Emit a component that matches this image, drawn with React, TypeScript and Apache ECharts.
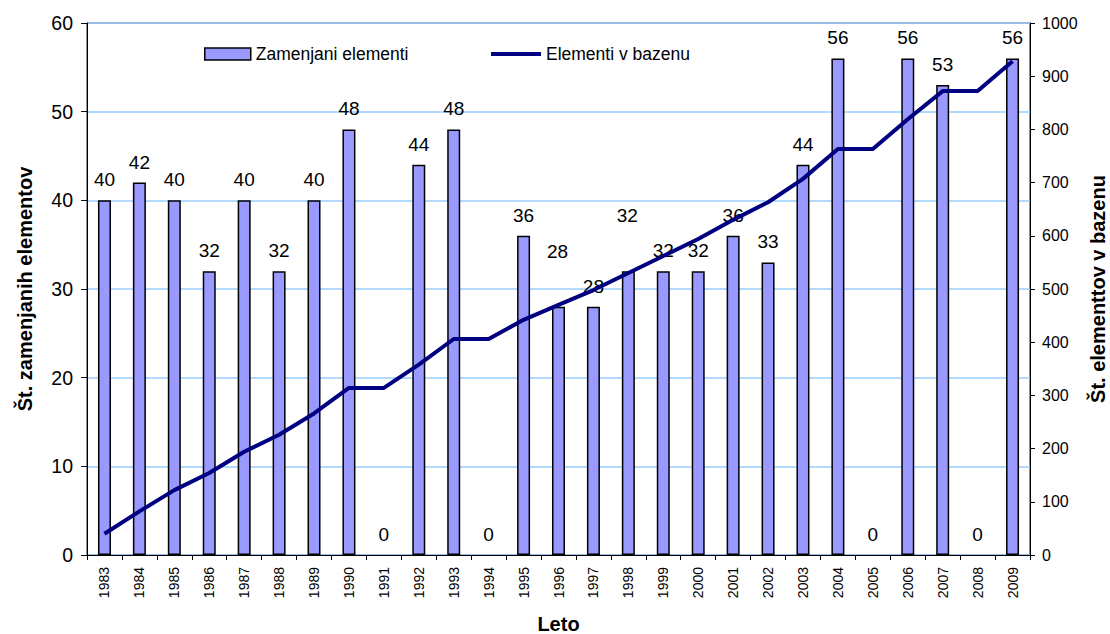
import React, { useEffect, useRef } from "react";
import * as echarts from "echarts";

const years = ["1983","1984","1985","1986","1987","1988","1989","1990","1991","1992","1993","1994","1995","1996","1997","1998","1999","2000","2001","2002","2003","2004","2005","2006","2007","2008","2009"];
const replacedElements = [40,42,40,32,40,32,40,48,0,44,48,0,36,28,28,32,32,32,36,33,44,56,0,56,53,0,56];
const elementsInPool = [40,82,122,154,194,226,266,314,314,358,406,406,442,470,498,530,562,594,630,663,707,763,763,819,872,872,928];
const raisedLabelYears = ["1996", "1998"];
const leftTicks = { min: 0, max: 60, interval: 10 };
const rightTicks = { min: 0, max: 1000, interval: 100 };

const FONT = "'Liberation Sans', Arial, sans-serif";

export default function App() {
  const ref = useRef<HTMLDivElement>(null);
  useEffect(() => {
    if (!ref.current) return;
    const chart = echarts.init(ref.current, null, { renderer: "svg" });
    const barData = replacedElements.map((v, i) => {
      if (raisedLabelYears.includes(years[i])) return { value: v, label: { offset: [-1, -35] } };
      if (v === 0) return { value: v, itemStyle: { borderWidth: 0 } };
      return v;
    });
    const legendText = { fontSize: 17.5, color: "#000", fontFamily: FONT };
    chart.setOption({
      animation: false,
      backgroundColor: "#fff",
      textStyle: { fontFamily: FONT },
      grid: {
        left: 87, right: 80, top: 23, bottom: 79,
        containLabel: false,
        outerBoundsMode: "none",
        show: true, borderColor: "#223", borderWidth: 1, backgroundColor: "transparent",
      },
      legend: [
        {
          left: 199, top: 40,
          itemWidth: 46, itemHeight: 12, itemGap: 4,
          textStyle: legendText,
          data: [
            { name: "Zamenjani elementi", icon: "rect", itemStyle: { color: "#9999FF", borderColor: "#000", borderWidth: 1.5 } },
          ],
        },
        {
          left: 486, top: 40,
          itemWidth: 50, itemHeight: 4,
          textStyle: legendText,
          data: [
            { name: "Elementi v bazenu", icon: "rect", itemStyle: { color: "#000080", borderWidth: 0 } },
          ],
        },
      ],
      xAxis: {
        type: "category",
        data: years,
        boundaryGap: true,
        name: "Leto",
        nameLocation: "middle",
        nameGap: 59,
        nameMoveOverlap: false,
        nameTextStyle: { fontSize: 20, fontWeight: "bold", color: "#000", fontFamily: FONT },
        axisLine: { show: true, lineStyle: { color: "#000", width: 1 } },
        axisTick: { show: true, length: 5, interval: 0, lineStyle: { color: "#000" } },
        axisLabel: { interval: 0, rotate: 90, fontSize: 14, color: "#000", margin: 12, fontFamily: FONT },
        splitLine: { show: false },
      },
      yAxis: [
        {
          type: "value",
          position: "left",
          ...leftTicks,
          name: "Št. zamenjanih elementov",
          nameLocation: "middle",
          nameRotate: 90,
          nameGap: 52,
          nameMoveOverlap: false,
          nameTextStyle: { fontSize: 20, fontWeight: "bold", color: "#000", fontFamily: FONT },
          axisLine: { show: true, lineStyle: { color: "#000", width: 1 } },
          axisTick: { show: true, length: 6, lineStyle: { color: "#000" } },
          axisLabel: { fontSize: 19.5, color: "#000", margin: 14, fontFamily: FONT },
          splitLine: { show: true, lineStyle: { color: "#99CCFF", width: 1.5 } },
        },
        {
          type: "value",
          position: "right",
          ...rightTicks,
          name: "Št. elementtov v bazenu",
          nameLocation: "middle",
          nameRotate: 90,
          nameGap: 58,
          nameMoveOverlap: false,
          nameTextStyle: { fontSize: 20, fontWeight: "bold", color: "#000", fontFamily: FONT },
          axisLine: { show: true, lineStyle: { color: "#000", width: 1 } },
          axisTick: { show: true, length: 5, lineStyle: { color: "#000" } },
          axisLabel: { fontSize: 16, color: "#000", margin: 12, fontFamily: FONT, formatter: (v: number) => String(v) },
          splitLine: { show: false },
        },
      ],
      series: [
        {
          name: "Zamenjani elementi",
          type: "bar",
          yAxisIndex: 0,
          barWidth: 13,
          data: barData,
          itemStyle: { color: "#9999FF", borderColor: "#000", borderWidth: 1.5 },
          label: { show: true, position: "top", distance: 11, fontSize: 19, color: "#000", fontFamily: FONT },
        },
        {
          name: "Elementi v bazenu",
          type: "line",
          yAxisIndex: 1,
          data: elementsInPool,
          symbol: "none",
          showSymbol: false,
          z: 5,
          itemStyle: { color: "#000080" },
          lineStyle: { color: "#000080", width: 4 },
        },
      ],
    });
    return () => chart.dispose();
  }, []);
  return <div ref={ref} style={{ position: "fixed", left: 0, top: 0, width: 1110, height: 634 }} />;
}
